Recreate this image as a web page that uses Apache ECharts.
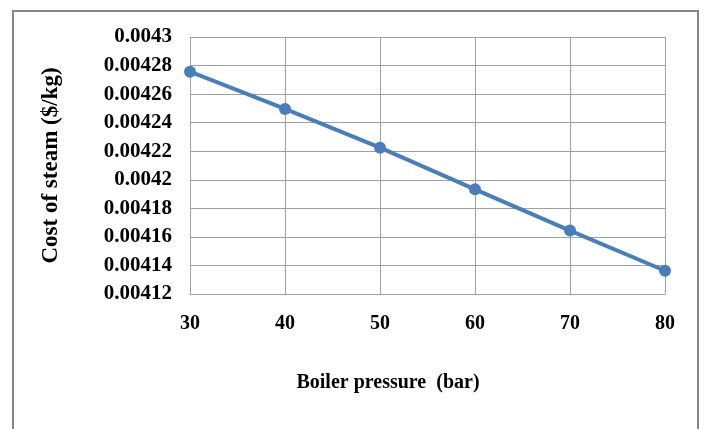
<!DOCTYPE html>
<html>
<head>
<meta charset="utf-8">
<script src="https://cdn.jsdelivr.net/npm/echarts@6/dist/echarts.min.js"></script>
<style>html,body{margin:0;padding:0;background:#fff;}#c{width:704px;height:429px;}</style>
</head>
<body>
<div id="c"></div>
<script>
const pressures = [30, 40, 50, 60, 70, 80];
const steamCost = [0.0042757, 0.0042496, 0.0042225, 0.0041933, 0.0041644, 0.0041363];
const xTitle = 'Boiler pressure  (bar)';
const yTitle = 'Cost of steam ($/kg)';

const chart = echarts.init(document.getElementById('c'));
const font = 'Liberation Serif';
chart.setOption({
  animation: false,
  backgroundColor: '#fff',
  graphic: [{
    type: 'rect', shape: {x: 13, y: 11, width: 685, height: 440},
    style: {fill: 'none', stroke: '#868686', lineWidth: 2}, silent: true
  }],
  grid: {left: 190, right: 39, top: 37, bottom: 135},
  xAxis: {
    type: 'value', min: 30, max: 80, interval: 10,
    name: xTitle, nameLocation: 'middle', nameGap: 79,
    nameTextStyle: {fontFamily: font, fontWeight: 'bold', fontSize: 20, color: '#000', padding: [0, 79, 0, 0]},
    axisLine: {show: true, lineStyle: {color: '#a0a0a0', width: 1}},
    axisTick: {show: false},
    axisLabel: {fontFamily: font, fontWeight: 'bold', fontSize: 20, color: '#000', margin: 20},
    splitLine: {show: true, lineStyle: {color: '#a0a0a0', width: 1}}
  },
  yAxis: {
    type: 'value', min: 0.00412, max: 0.0043, interval: 0.00002,
    name: yTitle, nameLocation: 'middle', nameGap: 127, nameRotate: 90,
    nameTextStyle: {fontFamily: font, fontWeight: 'bold', fontSize: 23, color: '#000'},
    axisLine: {show: true, lineStyle: {color: '#a0a0a0', width: 1}},
    axisTick: {show: false},
    axisLabel: {fontFamily: font, fontWeight: 'bold', fontSize: 21, color: '#000', margin: 18,
      formatter: v => String(parseFloat(v.toPrecision(6)))},
    splitLine: {show: true, lineStyle: {color: '#a0a0a0', width: 1}}
  },
  series: [{
    type: 'line',
    data: pressures.map((p, i) => [p, steamCost[i]]),
    symbol: 'circle', symbolSize: 12,
    lineStyle: {color: '#4a7ebb', width: 4},
    itemStyle: {color: '#4a7ebb'}
  }]
});
</script>
</body>
</html>
